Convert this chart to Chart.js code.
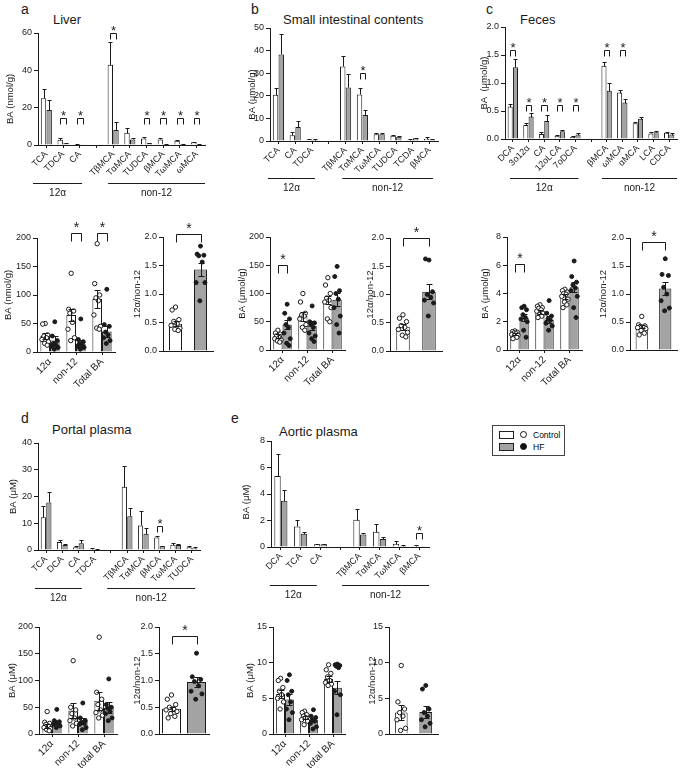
<!DOCTYPE html>
<html>
<head>
<meta charset="utf-8">
<script src="https://cdn.jsdelivr.net/npm/chart.js@4.4.1/dist/chart.umd.min.js"></script>
<style>
  body { margin: 0; background: #fff; font-family: "Liberation Sans", Arial, sans-serif; color: #1a1a1a; }
  #page { position: relative; width: 685px; height: 777px; overflow: hidden; }
  #page canvas { position: absolute; }
  .lbl { position: absolute; font-size: 13px; line-height: 15px; white-space: nowrap; color: #1a1a1a; }
  .letter { font-size: 14px; }
  #legend { position: absolute; left: 492px; top: 425px; width: 71px; height: 29px; border: 1px solid #444; font-size: 8.5px; }
  #legend .sw { position: absolute; left: 6px; width: 13px; height: 6px; border: 1px solid #222; }
  #legend .dot { position: absolute; left: 27px; width: 5px; height: 5px; border: 1px solid #111; border-radius: 50%; }
  #legend .tx { position: absolute; left: 40px; line-height: 10px; color: #000; }
</style>
</head>
<body>
<div id="page">
  <div class="lbl letter" style="left:21px;top:2px">a</div>
  <div class="lbl" style="left:53px;top:12px">Liver</div>
  <div class="lbl letter" style="left:251px;top:2px">b</div>
  <div class="lbl" style="left:283px;top:12px">Small intestinal contents</div>
  <div class="lbl letter" style="left:486px;top:2px">c</div>
  <div class="lbl" style="left:520px;top:12px">Feces</div>
  <div class="lbl letter" style="left:21px;top:411px">d</div>
  <div class="lbl" style="left:52px;top:422px">Portal plasma</div>
  <div class="lbl letter" style="left:231px;top:411px">e</div>
  <div class="lbl" style="left:279px;top:424px">Aortic plasma</div>
  <div id="legend">
    <div class="sw" style="top:5px;background:#fff"></div>
    <div class="dot" style="top:5px;background:#fff"></div>
    <div class="tx" style="top:4px"><span style="color:#000">Control</span></div>
    <div class="sw" style="top:17px;background:#a3a3a3"></div>
    <div class="dot" style="top:17px;background:#111"></div>
    <div class="tx" style="top:16px"><span style="color:#000">HF</span></div>
  </div>
</div>
<script>
// ---- a: Liver ----
const liverCats = ['TCA', 'TDCA', 'CA', '', 'TβMCA', 'TαMCA', 'TUDCA', 'βMCA', 'TωMCA', 'ωMCA'];
const liverCtrl    = [25, 2.8, 0.3, null, 43, 6.5, 3.5, 3.0, 2.3, 1.5];
const liverCtrlErr = [5, 0.8, 0.1, null, 12, 2.5, 0.8, 0.5, 0.5, 0.3];
const liverHF      = [18.7, 1.0, 0.1, null, 8, 3, 1.0, 0.5, 0.5, 0.2];
const liverHFErr   = [5.5, 0.3, 0.05, null, 4.5, 1, 0.3, 0.2, 0.2, 0.1];
const liverSig     = [null, 14.5, 14.5, null, 60, null, 14.5, 14.5, 14.5, 14.5];

// ---- b: Small intestinal contents ----
const intestCats = ['TCA', 'CA', 'TDCA', '', 'TβMCA', 'TαMCA', 'TωMCA', 'TUDCA', 'TCDA', 'βMCA'];
const intestCtrl    = [20.5, 2.5, 0.7, null, 33, 20.6, 3.0, 2.3, 0.6, 1.0];
const intestCtrlErr = [3, 1.5, 0.2, null, 4.7, 3, 0.5, 0.5, 0.2, 0.7];
const intestHF      = [38.3, 6.2, 0.5, null, 23.7, 11.5, 3.0, 1.9, 1.2, 0.7];
const intestHFErr   = [9, 2.5, 0.2, null, 6, 2, 0.5, 0.5, 0.3, 0.4];
const intestSig     = [null, null, null, null, null, 30, null, null, null, null];

// ---- c: Feces ----
const fecesCats = ['DCA', '3o12α', 'CA', '12oLCA', '7oDCA', '', 'βMCA', 'ωMCA', 'αMCA', 'LCA', 'CDCA'];
const fecesCtrl    = [0.58, 0.25, 0.09, 0.06, 0.04, null, 1.31, 0.83, 0.28, 0.10, 0.11];
const fecesCtrlErr = [0.05, 0.03, 0.04, 0.01, 0.01, null, 0.06, 0.05, 0.02, 0.02, 0.02];
const fecesHF      = [1.28, 0.40, 0.32, 0.14, 0.08, null, 0.86, 0.65, 0.36, 0.12, 0.08];
const fecesHFErr   = [0.15, 0.07, 0.10, 0.02, 0.02, null, 0.14, 0.06, 0.03, 0.03, 0.02];
const fecesSig     = [1.59, 0.61, 0.61, 0.61, 0.61, null, 1.59, 1.59, null, null, null];

// ---- d: Portal plasma ----
const portalCats = ['TCA', 'DCA', 'CA', 'TDCA', '', 'TβMCA', 'TαMCA', 'βMCA', 'TωMCA', 'TUDCA'];
const portalCtrl    = [12.2, 3.0, 1.0, 0.5, null, 23.6, 9.2, 4.7, 2.0, 1.0];
const portalCtrlErr = [4.3, 0.8, 0.6, 0.2, null, 7.8, 5.3, 0.5, 0.6, 0.5];
const portalHF      = [17.8, 1.9, 2.5, 0.3, null, 12.6, 6.1, 1.4, 1.9, 0.7];
const portalHFErr   = [4, 0.3, 1.2, 0.1, null, 3, 2.3, 0.2, 0.4, 0.3];
const portalSig     = [null, null, null, null, null, null, null, 9, null, null];

// ---- e: Aortic plasma ----
const aorticCats = ['DCA', 'TCA', 'CA', '', 'TβMCA', 'TαMCA', 'TωMCA', 'βMCA'];
const aorticCtrl    = [5.35, 1.55, 0.2, null, 2.05, 1.15, 0.25, 0.1];
const aorticCtrlErr = [1.7, 0.5, 0.05, null, 0.85, 0.55, 0.2, 0.03];
const aorticHF      = [3.5, 1.0, 0.2, null, 0.95, 0.6, 0.1, 0.02];
const aorticHFErr   = [0.8, 0.15, 0.05, null, 0.12, 0.15, 0.05, 0.01];
const aorticSig     = [null, null, null, null, null, null, null, 1.05];

// ---- totals (12α / non-12 / total) ----
const sumCats = ['12α', 'non-12', 'Total BA'];
const sumCatsLower = ['12α', 'non-12', 'total BA'];

const liverSumCtrl = [28, 65, 93];
const liverSumCtrlErr = [6, 10, 15];
const liverSumHF = [20, 15, 36];
const liverSumHFErr = [8, 6, 10];
const liverSumSig = [null, 209, 209];
const liverSumCtrlPts = [[50, 49, 30, 28, 25, 22, 18, 15, 12], [138, 75, 72, 68, 52, 40, 25, 20], [190, 120, 100, 95, 90, 65, 45, 42, 40]];
const liverSumHFPts = [[53, 28, 20, 15, 12, 10, 8, 5], [58, 22, 18, 15, 12, 10, 8, 5], [110, 48, 45, 35, 30, 25, 20, 15]];

const intestSumCtrl = [25, 60, 88];
const intestSumCtrlErr = [3, 8, 7];
const intestSumHF = [45, 43, 89];
const intestSumHFErr = [8, 8, 12];
const intestSumSig = [150, null, null];
const intestSumCtrlPts = [[35, 30, 28, 25, 22, 20, 18, 16, 14], [100, 85, 65, 62, 60, 55, 45, 40, 35], [128, 115, 100, 92, 88, 85, 75, 55, 50]];
const intestSumHFPts = [[81, 65, 55, 45, 40, 30, 20, 12, 8], [78, 50, 48, 45, 40, 30, 25, 20, 15], [148, 130, 105, 100, 90, 75, 60, 45, 30]];

const fecesSumCtrl = [1.15, 2.7, 3.78];
const fecesSumCtrlErr = [0.07, 0.12, 0.15];
const fecesSumHF = [2.27, 2.13, 4.45];
const fecesSumHFErr = [0.25, 0.25, 0.35];
const fecesSumSig = [6.1, null, null];
const fecesSumCtrlPts = [[1.35, 1.3, 1.25, 1.2, 1.15, 1.1, 1.05, 1.0, 0.9, 0.8], [3.2, 3.1, 3.0, 2.95, 2.85, 2.75, 2.6, 2.5, 2.4, 2.3], [4.3, 4.2, 4.1, 4.0, 3.95, 3.8, 3.6, 3.4, 3.2, 3.0]];
const fecesSumHFPts = [[3.1, 3.0, 2.85, 2.5, 2.3, 2.2, 2.0, 1.4, 0.9], [3.5, 2.6, 2.4, 2.2, 2.1, 1.9, 1.7, 1.4], [6.3, 5.2, 4.8, 4.6, 4.4, 4.2, 3.8, 3.0, 2.3]];

const portalSumCtrl = [15, 44, 62];
const portalSumCtrlErr = [4, 14, 17];
const portalSumHF = [21, 24, 49];
const portalSumHFErr = [3, 5, 10];
const portalSumSig = [null, null, null];
const portalSumCtrlPts = [[42, 22, 20, 18, 15, 12, 10, 8, 6], [137, 50, 45, 38, 30, 25, 20, 15], [181, 78, 65, 55, 45, 40, 35, 30]];
const portalSumHFPts = [[46, 25, 23, 22, 20, 18, 15, 12], [58, 30, 25, 22, 20, 18, 12, 8], [103, 55, 50, 48, 42, 38, 30, 25]];

const aorticSumCtrl = [5.6, 2.3, 7.7];
const aorticSumCtrlErr = [0.6, 0.2, 0.4];
const aorticSumHF = [4.85, 2.0, 6.5];
const aorticSumHFErr = [0.8, 0.3, 0.9];
const aorticSumSig = [null, null, null];
const aorticSumCtrlPts = [[7.8, 7.5, 6.5, 6.0, 5.5, 5.0, 4.5, 3.5], [3.2, 3.0, 2.7, 2.5, 2.3, 2.0, 1.8, 1.3], [9.7, 9.0, 8.5, 8.0, 7.5, 7.2, 7.0, 6.8]];
const aorticSumHFPts = [[8.3, 7.5, 6.0, 5.5, 4.5, 3.5, 3.0, 2.0], [3.4, 2.5, 2.3, 2.0, 1.8, 1.5, 1.0, 0.7], [9.8, 9.7, 9.6, 9.5, 9.3, 6.0, 5.5, 2.7]];

// ---- 12α / non-12 ratio (Control, HF) ----
const ratioCats = ['Control', 'HF'];
const liverRatio = [0.48, 1.43];
const liverRatioErr = [0.05, 0.12];
const liverRatioSig = 2.05;
const liverRatioCtrlPts = [0.77, 0.72, 0.55, 0.52, 0.48, 0.45, 0.40, 0.38, 0.36];
const liverRatioHFPts = [1.84, 1.70, 1.68, 1.67, 1.56, 1.20, 1.20, 0.88];

const intestRatio = [0.43, 1.05];
const intestRatioErr = [0.05, 0.13];
const intestRatioSig = 2.0;
const intestRatioCtrlPts = [0.64, 0.58, 0.52, 0.45, 0.42, 0.38, 0.33, 0.28, 0.25];
const intestRatioHFPts = [1.61, 1.63, 1.05, 1.0, 0.95, 0.90, 0.85, 0.62];

const fecesRatio = [0.42, 1.10];
const fecesRatioErr = [0.03, 0.12];
const fecesRatioSig = 1.93;
const fecesRatioCtrlPts = [0.60, 0.45, 0.43, 0.42, 0.41, 0.40, 0.38, 0.35, 0.30, 0.27];
const fecesRatioHFPts = [1.63, 1.35, 1.33, 1.12, 1.0, 0.88, 0.75, 0.70];

const portalRatio = [0.47, 0.97];
const portalRatioErr = [0.04, 0.10];
const portalRatioSig = 1.83;
const portalRatioCtrlPts = [0.73, 0.65, 0.55, 0.50, 0.47, 0.45, 0.42, 0.38, 0.33, 0.30];
const portalRatioHFPts = [1.51, 1.07, 1.02, 0.98, 0.90, 0.80, 0.75, 0.65];

const aorticRatio = [3.0, 3.1];
const aorticRatioErr = [1.0, 0.8];
const aorticRatioSig = null;
const aorticRatioCtrlPts = [9.6, 4.5, 3.5, 3.0, 2.5, 2.0, 0.8, 0.5];
const aorticRatioHFPts = [6.8, 6.3, 3.5, 3.0, 2.5, 2.0, 1.5, 1.0];

// ---------------------------------------------------------------
const FONT = '"Liberation Sans", Arial, sans-serif';
const INK = '#1a1a1a';
const GREY = '#a3a3a3';
// horizontal spread pattern for the dots, in units of spread (values are listed high to low)
const SWARM = [0, -1, 1, -0.5, 0.5, -1.3, 1.3, -0.2, 0.8, -0.8];

Chart.defaults.font.family = FONT;
Chart.defaults.font.size = 9;
Chart.defaults.color = INK;

const page = document.getElementById('page');

function overlay(s) {
  return {
    id: 'overlay',
    afterDatasetsDraw(chart) {
      const { ctx, chartArea: area } = chart;
      const x = chart.scales.x, y = chart.scales.y;
      const ratio = s.kind === 'ratio';
      const m0 = chart.getDatasetMeta(0), m1 = ratio ? null : chart.getDatasetMeta(1);
      ctx.save();
      ctx.strokeStyle = INK;
      ctx.fillStyle = INK;
      ctx.lineWidth = 1;

      // individual animals
      const drawDots = (bar, vals, open) => {
        if (!bar || !vals) return;
        const spreadPx = bar.width * s.spread;
        vals.forEach((v, k) => {
          const px = bar.x + SWARM[k % SWARM.length] * spreadPx;
          const py = y.getPixelForValue(v);
          ctx.beginPath();
          ctx.arc(px, py, open ? 2.2 : 2, 0, Math.PI * 2);
          ctx.fillStyle = open ? '#fff' : INK;
          ctx.fill();
          ctx.stroke();
        });
      };
      if (ratio) {
        drawDots(m0.data[0], s.ctrlPts, true);
        drawDots(m0.data[1], s.hfPts, false);
      } else {
        (s.ctrlPts || []).forEach((vals, i) => drawDots(m0.data[i], vals, true));
        (s.hfPts || []).forEach((vals, i) => drawDots(m1.data[i], vals, false));
      }
      ctx.fillStyle = INK;

      // error bars
      const bars = [];
      if (ratio) {
        s.means.forEach((m, i) => bars.push({ el: m0.data[i], m, e: s.errs[i] }));
      } else {
        [[s.ctrl, s.ctrlErr, m0], [s.hf, s.hfErr, m1]].forEach(([ms, es, meta]) => {
          ms.forEach((m, i) => { if (m != null) bars.push({ el: meta.data[i], m, e: es[i] }); });
        });
      }
      bars.forEach(({ el, m, e }) => {
        const bx = Math.round(el.x) + 0.5;
        const top = Math.round(y.getPixelForValue(m + e)) + 0.5;
        const bot = Math.round(y.getPixelForValue(s.twoSided ? Math.max(m - e, 0) : m)) + 0.5;
        ctx.beginPath();
        ctx.moveTo(bx, bot); ctx.lineTo(bx, top);
        ctx.moveTo(bx - s.cap, top); ctx.lineTo(bx + s.cap, top);
        if (s.twoSided) { ctx.moveTo(bx - s.cap, bot); ctx.lineTo(bx + s.cap, bot); }
        ctx.stroke();
      });

      // significance brackets
      const br = [];
      if (ratio) {
        if (s.sig != null) br.push([m0.data[0].x, m0.data[1].x, s.sig]);
      } else {
        s.sig.forEach((v, i) => { if (v != null) br.push([m0.data[i].x, m1.data[i].x, v]); });
      }
      br.forEach(([xa, xb, v]) => {
        const t = Math.round(y.getPixelForValue(v)) + 0.5;
        xa = Math.round(xa) + 0.5; xb = Math.round(xb) + 0.5;
        ctx.beginPath();
        ctx.moveTo(xa, t + s.leg); ctx.lineTo(xa, t); ctx.lineTo(xb, t); ctx.lineTo(xb, t + s.leg);
        ctx.stroke();
        ctx.font = s.starSize + 'px ' + FONT;
        ctx.textAlign = 'center';
        ctx.textBaseline = 'alphabetic';
        ctx.fillText('*', (xa + xb) / 2, t + s.starBase);
      });

      // group lines under the category labels
      (s.groups || []).forEach(g => {
        const xa = x.getPixelForValue(g.from), xb = x.getPixelForValue(g.to);
        const ly = Math.round(area.bottom + s.groupDy) + 0.5;
        ctx.lineWidth = 1.2;
        ctx.beginPath(); ctx.moveTo(xa, ly); ctx.lineTo(xb, ly); ctx.stroke();
        ctx.font = '10px ' + FONT;
        ctx.textAlign = 'center';
        ctx.textBaseline = 'middle';
        ctx.fillText(g.label, (xa + xb) / 2, ly + 10);
      });

      // y axis title
      ctx.translate(area.left - s.titleGap, (area.top + area.bottom) / 2 + (s.titleDy || 0));
      ctx.rotate(-Math.PI / 2);
      ctx.font = '9.5px ' + FONT;
      ctx.textAlign = 'center';
      ctx.textBaseline = 'middle';
      ctx.fillText(s.yTitle, 0, 0);
      ctx.restore();
    }
  };
}

function makeChart(s) {
  const a = s.area;
  const padR = 8;
  const yW = s.titleGap + 8;
  const cv = document.createElement('canvas');
  cv.width = yW + (a.x1 - a.x0) + padR;
  cv.height = s.padTop + (a.yBot - a.yTop) + s.xH;
  cv.style.left = (a.x0 - yW) + 'px';
  cv.style.top = (a.yTop - s.padTop) + 'px';
  page.appendChild(cv);

  const ratio = s.kind === 'ratio';
  const datasets = ratio
    ? [{ data: s.means, backgroundColor: ['#fff', GREY], borderColor: INK, borderWidth: 1,
         categoryPercentage: 1, barPercentage: s.barPct }]
    : [{ label: 'Control', data: s.ctrl, backgroundColor: '#fff', borderColor: INK, borderWidth: 1,
         categoryPercentage: s.catPct, barPercentage: s.barPct },
       { label: 'HF', data: s.hf, backgroundColor: GREY, borderColor: INK, borderWidth: 1,
         categoryPercentage: s.catPct, barPercentage: s.barPct }];

  new Chart(cv, {
    type: 'bar',
    data: { labels: s.labels, datasets },
    options: {
      responsive: false,
      animation: false,
      events: [],
      layout: { padding: { top: s.padTop, right: padR, left: 0, bottom: 0 } },
      plugins: { legend: { display: false }, tooltip: { enabled: false } },
      scales: {
        x: {
          offset: true,
          grid: { display: !ratio, drawOnChartArea: false, offset: false, tickLength: 3, color: INK },
          border: { color: INK, width: 1 },
          ticks: { display: !ratio, autoSkip: false, minRotation: 45, maxRotation: 45, padding: 1,
            font: { size: s.xFont || 9 } },
          afterFit: sc => { sc.height = s.xH; }
        },
        y: {
          min: 0, max: s.yMax,
          ticks: { stepSize: s.yStep, padding: 2, font: { size: 9 },
            callback: v => Number(v).toFixed(s.dec || 0) },
          grid: { drawOnChartArea: false, tickLength: 4, color: INK },
          border: { color: INK, width: 1 },
          afterFit: sc => { sc.width = yW; }
        }
      }
    },
    plugins: [overlay(s)]
  });
}

const TOP = { kind: 'top', padTop: 18, xH: 62, catPct: 0.68, barPct: 0.95, xFont: 9, cap: 2, leg: 6,
  starSize: 13, starBase: 1, twoSided: false, groupDy: 38 };
const SUM = { kind: 'sum', padTop: 28, xH: 48, catPct: 0.74, barPct: 1, xFont: 10, cap: 3, leg: 8,
  starSize: 14, starBase: -2, twoSided: true, spread: 0.26 };
const RATIO = { kind: 'ratio', padTop: 28, xH: 12, barPct: 0.52, cap: 3, leg: 8,
  starSize: 14, starBase: -2, twoSided: true, spread: 0.26 };

// top row of species charts
makeChart({ ...TOP, area: { x0: 38, x1: 205, yTop: 33, yBot: 145 }, yMax: 60, yStep: 20,
  yTitle: 'BA (nmol/g)', titleGap: 28, titleDy: 10, labels: liverCats,
  ctrl: liverCtrl, ctrlErr: liverCtrlErr, hf: liverHF, hfErr: liverHFErr, sig: liverSig,
  groups: [{ label: '12α', from: -0.8, to: 2.14 }, { label: 'non-12', from: 3.7, to: 9.5 }] });
makeChart({ ...TOP, area: { x0: 270, x1: 438, yTop: 28, yBot: 141 }, yMax: 50, yStep: 10,
  yTitle: 'BA (μmol/g)', titleGap: 18, titleDy: 10, labels: intestCats, groupDy: 37,
  ctrl: intestCtrl, ctrlErr: intestCtrlErr, hf: intestHF, hfErr: intestHFErr, sig: intestSig,
  groups: [{ label: '12α', from: -0.62, to: 2.18 }, { label: 'non-12', from: 3.8, to: 9.2 }] });
makeChart({ ...TOP, area: { x0: 505, x1: 677, yTop: 27, yBot: 139 }, yMax: 2, yStep: 0.5, dec: 1,
  yTitle: 'BA  (μmol/g)', titleGap: 21, titleDy: 0, labels: fecesCats, groupDy: 39,
  ctrl: fecesCtrl, ctrlErr: fecesCtrlErr, hf: fecesHF, hfErr: fecesHFErr, sig: fecesSig,
  groups: [{ label: '12α', from: -0.18, to: 4.2 }, { label: 'non-12', from: 5.7, to: 10.5 }] });
makeChart({ ...TOP, area: { x0: 38, x1: 200, yTop: 443, yBot: 550 }, yMax: 40, yStep: 10,
  yTitle: 'BA (μM)', titleGap: 25, titleDy: 0, labels: portalCats,
  ctrl: portalCtrl, ctrlErr: portalCtrlErr, hf: portalHF, hfErr: portalHFErr, sig: portalSig,
  groups: [{ label: '12α', from: -0.68, to: 2.2 }, { label: 'non-12', from: 3.77, to: 9.2 }] });
makeChart({ ...TOP, area: { x0: 271, x1: 429, yTop: 441, yBot: 547 }, yMax: 8, yStep: 2,
  yTitle: 'BA (μM)', titleGap: 25, titleDy: 8, labels: aorticCats,
  ctrl: aorticCtrl, ctrlErr: aorticCtrlErr, hf: aorticHF, hfErr: aorticHFErr, sig: aorticSig,
  groups: [{ label: '12α', from: -0.56, to: 1.82 }, { label: 'non-12', from: 3.1, to: 7.5 }] });

// totals with individual animals
makeChart({ ...SUM, area: { x0: 37, x1: 115, yTop: 238, yBot: 352 }, yMax: 200, yStep: 50,
  yTitle: 'BA (nmol/g)', titleGap: 29, labels: sumCats,
  ctrl: liverSumCtrl, ctrlErr: liverSumCtrlErr, hf: liverSumHF, hfErr: liverSumHFErr, sig: liverSumSig,
  ctrlPts: liverSumCtrlPts, hfPts: liverSumHFPts });
makeChart({ ...SUM, area: { x0: 270, x1: 345, yTop: 237, yBot: 350 }, yMax: 200, yStep: 50,
  yTitle: 'BA (μmol/g)', titleGap: 28, labels: sumCats,
  ctrl: intestSumCtrl, ctrlErr: intestSumCtrlErr, hf: intestSumHF, hfErr: intestSumHFErr, sig: intestSumSig,
  ctrlPts: intestSumCtrlPts, hfPts: intestSumHFPts });
makeChart({ ...SUM, area: { x0: 507, x1: 582, yTop: 237, yBot: 350 }, yMax: 8, yStep: 2,
  yTitle: 'BA (μmol/g)', titleGap: 22, labels: sumCats,
  ctrl: fecesSumCtrl, ctrlErr: fecesSumCtrlErr, hf: fecesSumHF, hfErr: fecesSumHFErr, sig: fecesSumSig,
  ctrlPts: fecesSumCtrlPts, hfPts: fecesSumHFPts });
makeChart({ ...SUM, area: { x0: 39, x1: 117, yTop: 627, yBot: 734 }, yMax: 200, yStep: 50,
  yTitle: 'BA (μM)', titleGap: 27, labels: sumCatsLower,
  ctrl: portalSumCtrl, ctrlErr: portalSumCtrlErr, hf: portalSumHF, hfErr: portalSumHFErr, sig: portalSumSig,
  ctrlPts: portalSumCtrlPts, hfPts: portalSumHFPts });
makeChart({ ...SUM, area: { x0: 273, x1: 345, yTop: 627, yBot: 734 }, yMax: 15, yStep: 5,
  yTitle: 'BA (μM)', titleGap: 23, labels: sumCatsLower,
  ctrl: aorticSumCtrl, ctrlErr: aorticSumCtrlErr, hf: aorticSumHF, hfErr: aorticSumHFErr, sig: aorticSumSig,
  ctrlPts: aorticSumCtrlPts, hfPts: aorticSumHFPts });

// 12α/non-12 ratios
makeChart({ ...RATIO, area: { x0: 163, x1: 213, yTop: 237, yBot: 351 }, yMax: 2, yStep: 0.5, dec: 1,
  yTitle: '12α/non-12', titleGap: 26, labels: ratioCats,
  means: liverRatio, errs: liverRatioErr, sig: liverRatioSig, ctrlPts: liverRatioCtrlPts, hfPts: liverRatioHFPts });
makeChart({ ...RATIO, area: { x0: 390, x1: 442, yTop: 238, yBot: 351 }, yMax: 2, yStep: 0.5, dec: 1,
  yTitle: '12α/non-12', titleGap: 20, labels: ratioCats,
  means: intestRatio, errs: intestRatioErr, sig: intestRatioSig, ctrlPts: intestRatioCtrlPts, hfPts: intestRatioHFPts });
makeChart({ ...RATIO, area: { x0: 630, x1: 677, yTop: 238, yBot: 350 }, yMax: 2, yStep: 0.5, dec: 1,
  yTitle: '12α/non-12', titleGap: 27, labels: ratioCats,
  means: fecesRatio, errs: fecesRatioErr, sig: fecesRatioSig, ctrlPts: fecesRatioCtrlPts, hfPts: fecesRatioHFPts });
makeChart({ ...RATIO, area: { x0: 159, x1: 209, yTop: 627, yBot: 734 }, yMax: 2, yStep: 0.5, dec: 1,
  yTitle: '12α/non-12', titleGap: 22, labels: ratioCats, barPct: 0.76, spread: 0.22,
  means: portalRatio, errs: portalRatioErr, sig: portalRatioSig, ctrlPts: portalRatioCtrlPts, hfPts: portalRatioHFPts });
makeChart({ ...RATIO, area: { x0: 389, x1: 438, yTop: 627, yBot: 734 }, yMax: 15, yStep: 5,
  yTitle: '12α/non-12', titleGap: 17, labels: ratioCats,
  means: aorticRatio, errs: aorticRatioErr, sig: aorticRatioSig, ctrlPts: aorticRatioCtrlPts, hfPts: aorticRatioHFPts });
</script>
</body>
</html>
